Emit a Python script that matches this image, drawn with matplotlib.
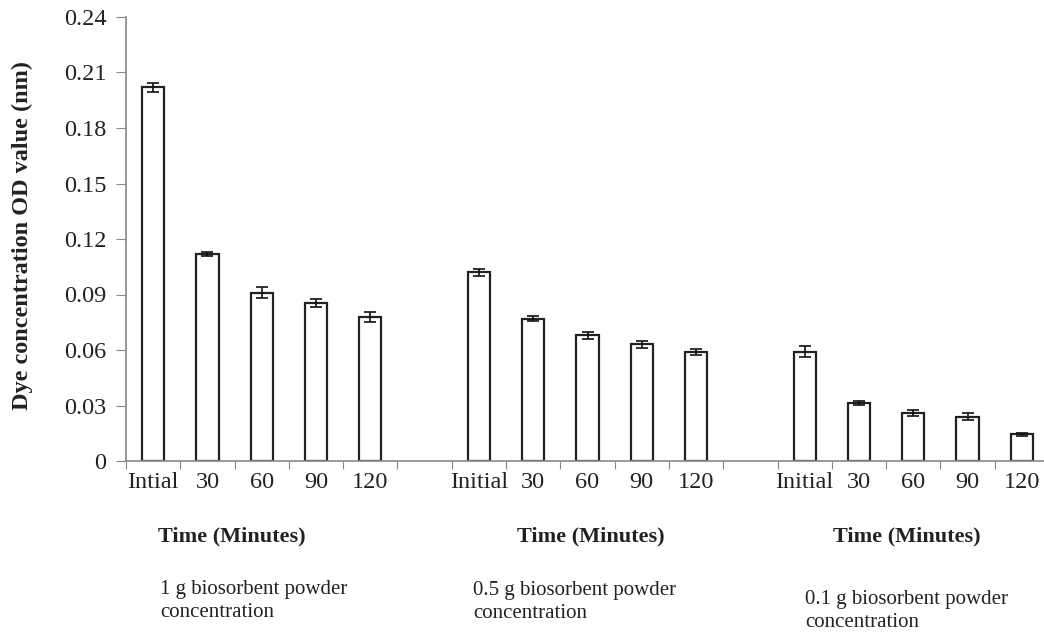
import matplotlib
matplotlib.use("Agg")
import matplotlib.pyplot as plt
import numpy as np

plt.rcParams['font.family'] = ['Liberation Serif', 'DejaVu Serif']

# OD readings at each time point, one list per biosorbent dose
times_1g = ['Intial', '30', '60', '90', '120']
times = ['Initial', '30', '60', '90', '120']
od_1g = [0.202, 0.112, 0.091, 0.0855, 0.078]
od_05g = [0.102, 0.077, 0.068, 0.063, 0.059]
od_01g = [0.059, 0.0315, 0.026, 0.024, 0.0145]
err_1g = [0.0025, 0.0012, 0.003, 0.0022, 0.0028]
err_05g = [0.002, 0.0013, 0.002, 0.002, 0.0015]
err_01g = [0.003, 0.001, 0.0015, 0.002, 0.0008]
doses = ['1 g biosorbent powder\nconcentration',
         '0.5 g biosorbent powder\nconcentration',
         '0.1 g biosorbent powder\nconcentration']

W, H = 1044, 635
fig = plt.figure(figsize=(W / 100, H / 100), dpi=100)
ax = fig.add_axes([126 / W, 174 / H, 923 / W, 444 / H])

# three groups of five bars with an empty slot between groups
groups = [(od_1g, err_1g), (od_05g, err_05g), (od_01g, err_01g)]
vals, errs, labels, pos = [], [], [], []
for g, (v, e) in enumerate(groups):
    for i in range(5):
        pos.append(g * 6 + i + 0.5)
    vals += v
    errs += e
    labels += times_1g if g == 0 else times

ax.bar(pos, vals, width=0.41, color='white', edgecolor='#222222', linewidth=1.6,
       yerr=errs, capsize=4.5, error_kw=dict(ecolor='#111111', elinewidth=1.2, capthick=1.2))

ax.set_xlim(0, 17)
ax.set_ylim(0, 0.24)
ax.set_yticks(np.arange(0, 0.241, 0.03))
ax.set_yticklabels(['0'] + ['%.2f' % t for t in np.arange(0.03, 0.241, 0.03)])
ax.set_xticks(np.arange(0, 17, 1))
ax.set_xticklabels([])
ax.set_xticks(pos, minor=True)
ax.set_xticklabels(labels, minor=True)
ax.tick_params(axis='x', which='minor', length=0, pad=8, labelsize=17.5, labelcolor='#222222')
ax.tick_params(axis='x', which='major', length=6, color='#888888', direction='out')
ax.tick_params(axis='y', length=7, color='#888888', labelsize=17.5, labelcolor='#222222', pad=7)

for s in ['top', 'right']:
    ax.spines[s].set_visible(False)
for s in ['left', 'bottom']:
    ax.spines[s].set_color('#888888')
    ax.spines[s].set_linewidth(1.2)

ax.set_ylabel('Dye concentration OD value (nm)', fontsize=17.5, fontweight='bold',
              color='#222222')
ax.yaxis.set_label_coords(-(126 - 33) / 923, 0.508)

# captions under each group
for cx in [232, 591, 907]:
    fig.text(cx / W, 1 - 536 / H, 'Time (Minutes)', ha='center', va='center',
             fontsize=16, fontweight='bold', color='#222222')
for (lx, ly), txt in zip([(160, 601), (473, 602), (805, 611)], doses):
    fig.text(lx / W, 1 - ly / H, txt, ha='left', va='center', fontsize=15,
             color='#222222', linespacing=1.25)

fig.savefig('out.png', dpi=100)
